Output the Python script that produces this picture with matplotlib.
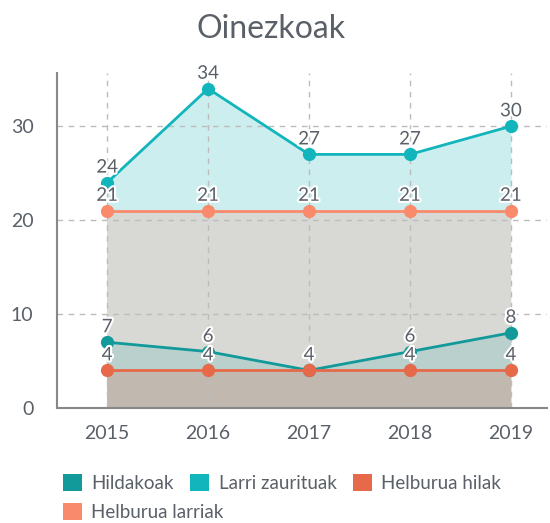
import matplotlib.pyplot as plt
import matplotlib.patheffects as pe
from matplotlib.patches import Patch

plt.rcParams['font.family'] = ['Lato', 'DejaVu Sans']

years = [2015, 2016, 2017, 2018, 2019]
hildakoak = [7, 6, 4, 6, 8]
larri_zaurituak = [24, 34, 27, 27, 30]
helburua_hilak = [4, 4, 4, 4, 4]
helburua_larriak = [21, 21, 21, 21, 21]

series = ["Hildakoak", "Larri zaurituak", "Helburua hilak", "Helburua larriak"]
line_colors = ["#12999a", "#11b5bb", "#e6694a", "#f98a6b"]

text_col = "#5a6068"

fig = plt.figure(figsize=(5.5, 5.23), dpi=100)
ax = fig.add_axes([0.104, 0.22, 0.891, 0.641])

# filled areas, back to front
ax.fill_between(years, 0, larri_zaurituak, color="#cdeeef", lw=0, zorder=1)
ax.fill_between(years, 0, helburua_larriak, color="#d8d9d5", lw=0, zorder=1.1)
ax.fill_between(years, 0, hildakoak, color="#b9d0cc", lw=0, zorder=1.2)
ax.fill_between(years, 0, helburua_hilak, color="#c1b8af", lw=0, zorder=1.3)

ax.grid(True, color="#bcbcbc", ls=(0, (4, 4)), lw=1)
ax.set_axisbelow(False)
for g in ax.get_xgridlines() + ax.get_ygridlines():
    g.set_zorder(1.5)

data = [hildakoak, larri_zaurituak, helburua_hilak, helburua_larriak]
order = [1, 3, 0, 2]
for i in order:
    ax.plot(years, data[i], color=line_colors[i], lw=2, marker="o", ms=8.5, zorder=3 + i * 0.1)

outline = [pe.withStroke(linewidth=3, foreground="white")]
for i in order:
    for x, v in zip(years, data[i]):
        ax.annotate(str(v), (x, v), xytext=(0, 5), textcoords="offset points",
                    ha="center", va="bottom", fontsize=13.5, color=text_col,
                    path_effects=outline, zorder=5)

ax.set_xlim(2014.505, 2019.36)
ax.set_ylim(0, 35.7)
ax.set_xticks(years)
ax.set_yticks([0, 10, 20, 30])
ax.tick_params(length=0, labelsize=14, colors=text_col, pad=12)
ax.tick_params(axis="y", pad=17)
for s in ["top", "right"]:
    ax.spines[s].set_visible(False)
for s in ["left", "bottom"]:
    ax.spines[s].set_color("#888888")
    ax.spines[s].set_linewidth(1.5)
    ax.spines[s].set_zorder(6)

fig.text(0.493, 0.945, "Oinezkoak", ha="center", va="center", fontsize=23, color=text_col)

# legend: three entries on the first row, the fourth below
handles = [Patch(facecolor=c, edgecolor="none") for c in line_colors]
leg_kw = dict(loc="center left", frameon=False, fontsize=13.5, labelcolor=text_col,
              handlelength=1.0, handleheight=1.0, handletextpad=0.5,
              columnspacing=0.9, borderpad=0, borderaxespad=0)
fig.legend(handles[:3], series[:3], bbox_to_anchor=(0.1145, 0.0765), ncol=3, **leg_kw)
fig.legend(handles[3:], series[3:], bbox_to_anchor=(0.1145, 0.021), ncol=1, **leg_kw)

fig.savefig("out.png", dpi=100)
